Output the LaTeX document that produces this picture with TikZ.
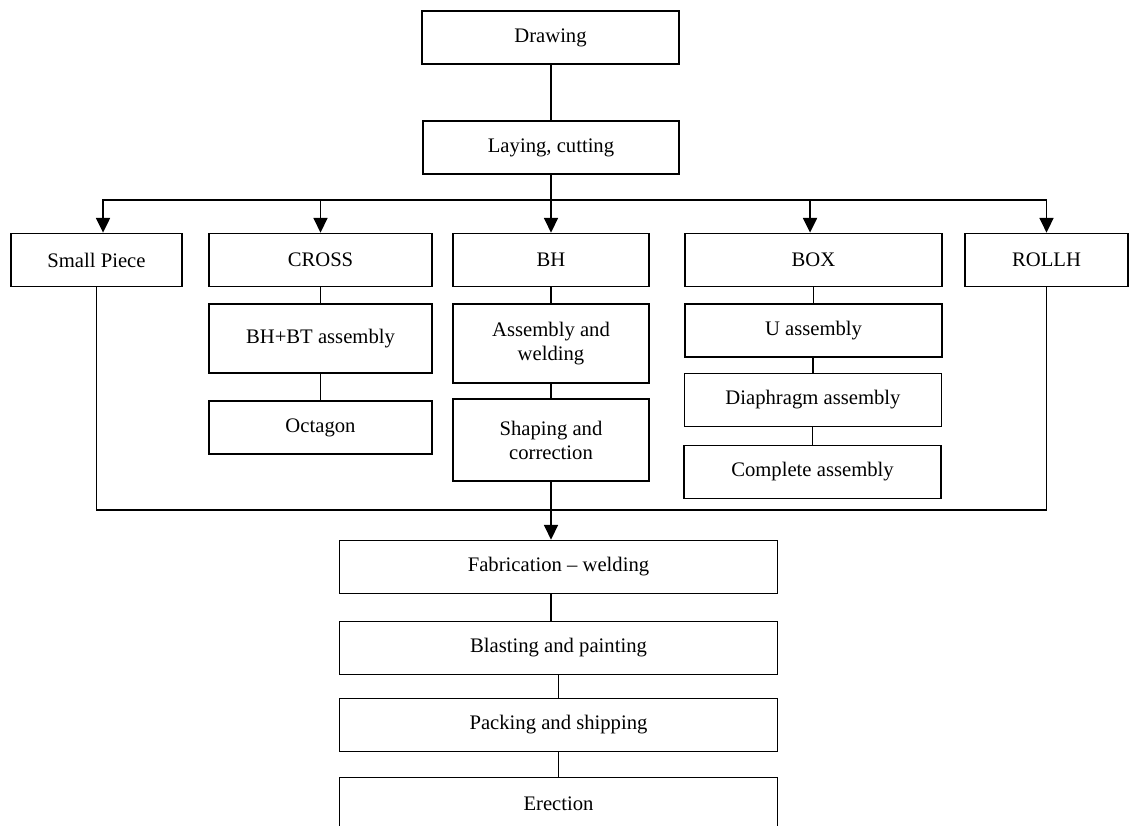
\documentclass[tikz,border=0pt]{standalone}
\usepackage{fontspec}
\setmainfont{Liberation Serif}
\usetikzlibrary{arrows.meta}

\begin{document}
\begin{tikzpicture}
  [x=0.75pt, y=-0.75pt,
   box/.style={draw, line width=1.3pt, align=center, inner sep=2pt,
     minimum height=39.75pt, font=\fontsize{15.5}{18}\selectfont},
   link/.style={line width=1.2pt},
   arr/.style={line width=1.2pt, -{Triangle[width=10.5pt,length=11pt]}}]
  \useasboundingbox (0,0) rectangle (1131,825);
  \clip (0,0) rectangle (1131,825);

  % top of the flow
  \node[box, minimum width=192.75pt] (draw) at (550.5,37.5) {Drawing};
  \node[box, minimum width=192pt] (lay) at (551,147.5) {Laying, cutting};

  % the five kinds of part
  \node[box, minimum width=128.25pt] (small) at (96.5,260) {Small Piece};
  \node[box, minimum width=167.25pt] (cross) at (320.5,260) {CROSS};
  \node[box, minimum width=147pt] (bh) at (551,260) {BH};
  \node[box, minimum width=192.75pt] (box) at (813.5,260) {BOX};
  \node[box, minimum width=122.25pt] (rollh) at (1046.5,260) {ROLLH};

  \node[box, minimum width=167.25pt, minimum height=51.75pt] (bhbt) at (320.5,338.5) {BH+BT assembly};
  \node[box, minimum width=167.25pt] (oct) at (320.5,427.5) {Octagon};

  \node[box, minimum width=147pt, minimum height=59.25pt] (weld) at (551,343.5) {Assembly and\\welding};
  \node[box, minimum width=147pt, minimum height=61.5pt] (shape) at (551,440) {Shaping and\\correction};

  \node[box, minimum width=192.75pt] (uasm) at (813.5,330.5) {U assembly};
  \node[box, minimum width=192.75pt] (dia) at (813,400) {Diaphragm assembly};
  \node[box, minimum width=192.75pt] (comp) at (812.5,472) {Complete assembly};

  % bottom of the flow
  \node[box, minimum width=328.5pt] (fab) at (558.5,567) {Fabrication -- welding};
  \node[box, minimum width=328.5pt] (blast) at (558.5,648) {Blasting and painting};
  \node[box, minimum width=328.5pt] (pack) at (558.5,725) {Packing and shipping};
  \node[box, minimum width=328.5pt] (erect) at (558.5,804) {Erection};

  \coordinate (split) at (551,200);
  \coordinate (merge) at (551,510);

  \draw[link] (draw.south -| lay.north) -- (lay.north);
  \draw[link] (lay) -- (split);
  \draw[arr] (split) -| ([xshift=4.9pt]small.north);
  \draw[arr] (split) -| (cross.north);
  \draw[arr] (split) -- (bh.north);
  \draw[arr] (split) -| ([xshift=-2.6pt]box.north);
  \draw[arr] (split) -| (rollh.north);

  \draw[link] (cross) -- (bhbt);
  \draw[link] (bhbt) -- (oct);
  \draw[link] (bh) -- (weld);
  \draw[link] (weld) -- (shape);
  \draw[link] (box) -- (uasm);
  \draw[link] (uasm.south -| dia.north) -- (dia.north);
  \draw[link] (dia.south -| comp.north) -- (comp.north);

  \draw[link] (small.south) |- (merge) -| (rollh.south);
  \draw[arr] (shape.south) -- (shape.south |- fab.north);

  \draw[link] (fab.south -| split) -- (blast.north -| split);
  \draw[link] (blast) -- (pack);
  \draw[link] (pack) -- (erect);
\end{tikzpicture}
\end{document}
